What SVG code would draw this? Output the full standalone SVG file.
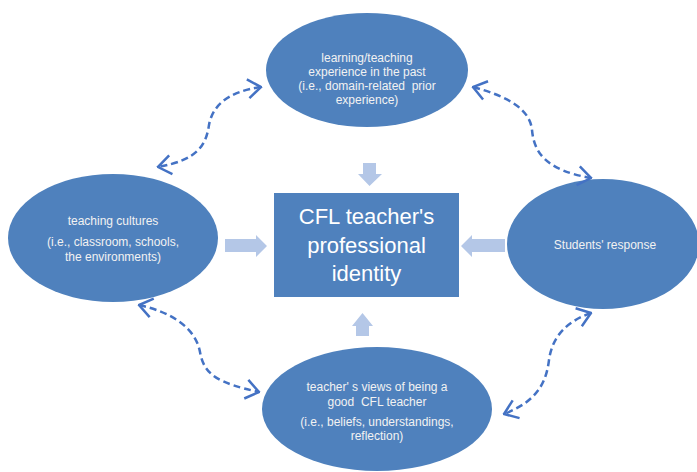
<svg xmlns="http://www.w3.org/2000/svg" width="697" height="472" viewBox="0 0 697 472">
  <style>
    .node { fill: #4F81BD; }
    .lbl { font-family: "Liberation Sans", Arial, sans-serif; font-size: 12px; fill: #F2F2F2; text-anchor: middle; white-space: pre; }
    .title { font-family: "Liberation Sans", Arial, sans-serif; font-size: 22px; fill: #FFFFFF; text-anchor: middle; }
    .block { fill: #B4C7E7; }
    .link { fill: none; stroke: #4472C4; stroke-width: 2.5; stroke-dasharray: 7 4; marker-start: url(#chev); marker-end: url(#chev); }
  </style>
  <defs>
    <marker id="chev" viewBox="0 0 16 22" refX="14.5" refY="11" markerWidth="16" markerHeight="22" markerUnits="userSpaceOnUse" orient="auto-start-reverse">
      <path d="M1.5,1.5 L14.5,11 L1.5,20.5" fill="none" stroke="#4472C4" stroke-width="2.5"/>
    </marker>
  </defs>
  <rect width="697" height="472" fill="#FFFFFF"/>

  <!-- central box -->
  <g id="identity">
    <rect class="node" x="274" y="193" width="185" height="104"/>
    <text class="title" x="366.5" y="224">CFL teacher's</text>
    <text class="title" x="366.5" y="253">professional</text>
    <text class="title" x="366.5" y="281">identity</text>
  </g>

  <g id="past-experience">
    <ellipse class="node" cx="367" cy="70" rx="101" ry="57"/>
    <text class="lbl" x="367" y="62">learning/teaching</text>
    <text class="lbl" x="367" y="76">experience in the past</text>
    <text class="lbl" x="367" y="90" xml:space="preserve">(i.e., domain-related  prior</text>
    <text class="lbl" x="367" y="104">experience)</text>
  </g>

  <g id="teaching-cultures">
    <ellipse class="node" cx="113" cy="238" rx="105" ry="64"/>
    <text class="lbl" x="113" y="225">teaching cultures</text>
    <text class="lbl" x="113" y="246">(i.e., classroom, schools,</text>
    <text class="lbl" x="113" y="261">the environments)</text>
  </g>

  <g id="students-response">
    <ellipse class="node" cx="603" cy="244" rx="96" ry="65"/>
    <text class="lbl" x="605" y="249">Students' response</text>
  </g>

  <g id="teacher-views">
    <ellipse class="node" cx="377" cy="409" rx="115" ry="62"/>
    <text class="lbl" x="377" y="391">teacher' s views of being a</text>
    <text class="lbl" x="377" y="406" xml:space="preserve">good  CFL teacher</text>
    <text class="lbl" x="377" y="426">(i.e., beliefs, understandings,</text>
    <text class="lbl" x="377" y="440">reflection)</text>
  </g>

  <!-- block arrows into the central box -->
  <g id="block-arrows">
    <polygon class="block" points="363,163 376,163 376,174 382,174 369.5,186 358,174 363,174"/>
    <polygon class="block" points="225,239 256,239 256,235 267,246 256,257 256,252 225,252"/>
    <polygon class="block" points="505,239 472,239 472,235 461,246 472,257 472,252 505,252"/>
    <polygon class="block" points="356,336 369,336 369,326 373,326 362.5,313 352,326 356,326"/>
  </g>

  <!-- dashed two-way links between the outer nodes -->
  <g id="connectors">
    <path class="link" d="M261,87 C225,92 212,108 209,125 C206,145 198,160 158,167"/>
    <path class="link" d="M473,87 C510,97 530,110 532,130 C534,152 545,170 591,178"/>
    <path class="link" d="M139,305 C175,313 196,330 200,352 C204,375 218,383 259,392"/>
    <path class="link" d="M591,313 C565,322 552,338 549,360 C546,385 535,402 504,414"/>
  </g>
</svg>
